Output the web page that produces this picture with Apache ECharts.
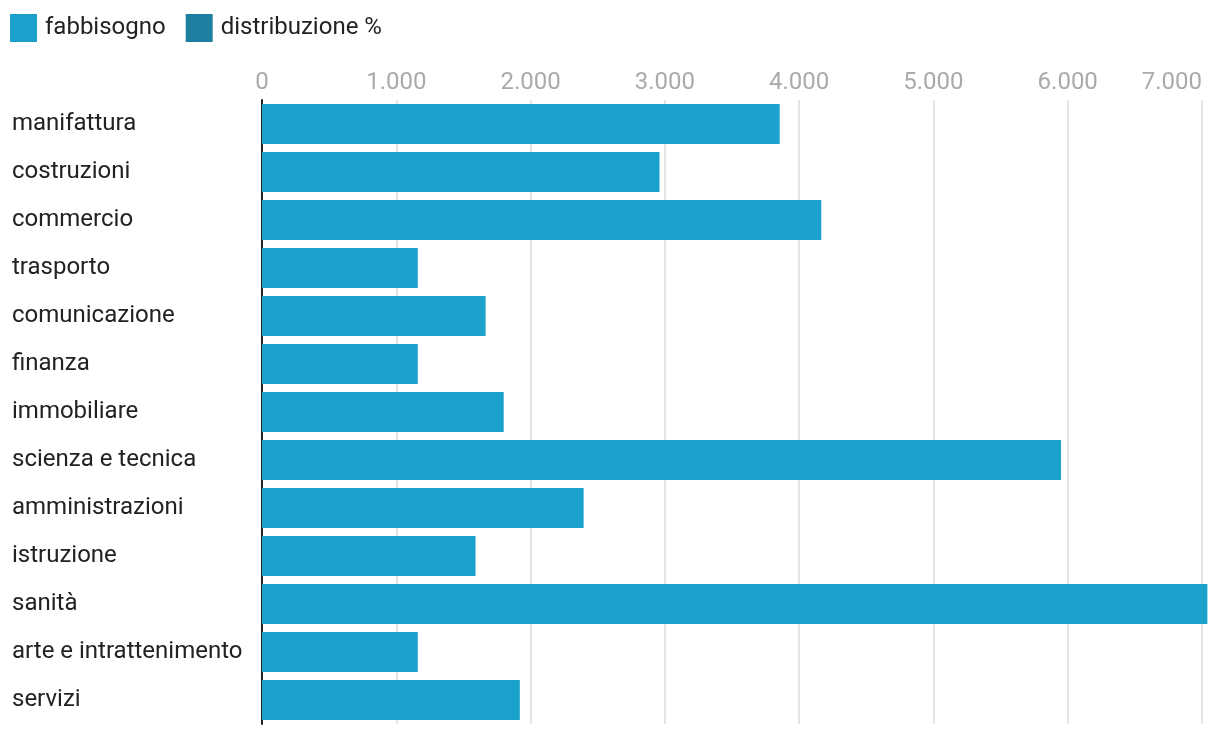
<!DOCTYPE html>
<html><head><meta charset="utf-8">
<script src="https://cdn.jsdelivr.net/npm/echarts@6/dist/echarts.min.js"></script>
<style>html,body{margin:0;padding:0;background:#fff}#c{width:1220px;height:732px}</style>
</head><body><div id="c"></div>
<script>
const categories = ["manifattura","costruzioni","commercio","trasporto","comunicazione","finanza","immobiliare","scienza e tecnica","amministrazioni","istruzione","sanità","arte e intrattenimento","servizi"];
const fabbisogno = [3855, 2960, 4165, 1160, 1665, 1160, 1800, 5950, 2395, 1590, 7040, 1160, 1920];
const distribuzione = [];
const seriesNames = ["fabbisogno", "distribuzione %"];
const axisMax = 7000;

const chart = echarts.init(document.getElementById('c'), null, {renderer: 'canvas'});
chart.setOption({
  animation: false,
  textStyle: {fontFamily: 'Roboto'},
  legend: {
    left: 10, top: 14, padding: 0, itemWidth: 27, itemHeight: 28, itemGap: 20, icon: 'rect',
    textStyle: {fontSize: 24, color: '#222', fontFamily: 'Roboto', padding: [2,0,0,3]},
    data: seriesNames
  },
  grid: {left: 262, right: 18, top: 100, bottom: 8, containLabel: false, outerBoundsMode: 'none'},
  xAxis: {
    type: 'value', position: 'top', min: 0, max: axisMax, interval: 1000,
    axisLine: {show: false}, axisTick: {show: false},
    axisLabel: {color: '#aaa', fontSize: 24, margin: 5, alignMaxLabel: 'right',
      formatter: v => v.toLocaleString('it-IT').replace(/\s/g,'.')},
    splitLine: {show: true, lineStyle: {color: '#e5e5e5', width: 2}}
  },
  yAxis: {
    type: 'category', data: categories, inverse: true,
    axisLine: {show: true, lineStyle: {color: '#222', width: 2}},
    axisTick: {show: false},
    axisLabel: {align: 'left', margin: 250, fontSize: 24, color: '#222', padding: [4,0,0,0]}
  },
  series: [
    {name: seriesNames[0], type: 'bar', data: fabbisogno, barWidth: 40, barGap: '-100%', clip: false,
     itemStyle: {color: '#1aa1cc'}},
    {name: seriesNames[1], type: 'bar', data: distribuzione, barWidth: 40,
     itemStyle: {color: '#1e80a0'}}
  ]
});
</script></body></html>
